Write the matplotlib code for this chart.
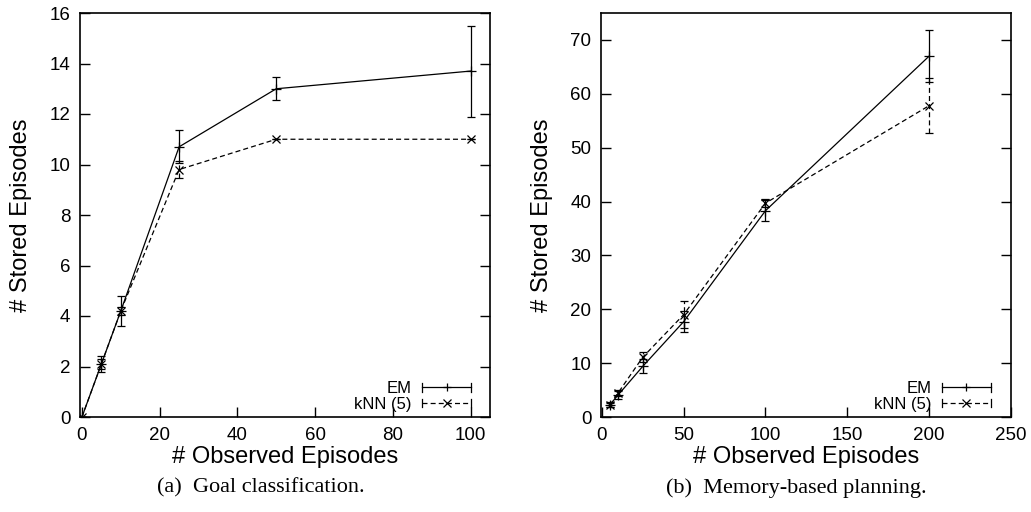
import matplotlib
matplotlib.use("Agg")
import matplotlib.pyplot as plt
from matplotlib.legend_handler import HandlerBase
from matplotlib.lines import Line2D

# ---- data: (a) Goal classification ----
a_x = [0, 5, 10, 25, 50, 100]
a_em = [0, 2.1, 4.2, 10.7, 13.0, 13.7]
a_em_err = [0, 0.3, 0.6, 0.65, 0.45, 1.8]
a_knn = [0, 2.1, 4.2, 9.8, 11.0, 11.0]
a_knn_err = [0, 0.2, 0.15, 0.35, 0, 0]

# ---- data: (b) Memory-based planning ----
b_x = [5, 10, 25, 50, 100, 200]
b_em = [2.3, 4.1, 9.4, 17.7, 38.3, 67.0]
b_em_err = [0.5, 0.8, 1.3, 1.9, 1.9, 4.8]
b_knn = [2.2, 4.5, 11.1, 19.0, 39.7, 57.8]
b_knn_err = [0.4, 0.6, 0.9, 2.5, 0.8, 5.1]

labels = ["EM", "kNN (5)"]
captions = ["(a)  Goal classification.", "(b)  Memory-based planning."]
a_xticks = [0, 20, 40, 60, 80, 100]
a_yticks = [0, 2, 4, 6, 8, 10, 12, 14, 16]
b_xticks = [0, 50, 100, 150, 200, 250]
b_yticks = [0, 10, 20, 30, 40, 50, 60, 70]

sans = ["Liberation Sans", "DejaVu Sans"]
serif = ["Liberation Serif", "DejaVu Serif"]
plt.rcParams['font.family'] = sans


class ErrHandler(HandlerBase):
    def __init__(self, marker, ls):
        super().__init__()
        self.marker = marker
        self.ls = ls

    def create_artists(self, legend, orig_handle, xdescent, ydescent,
                       width, height, fontsize, trans):
        y = height / 2 - ydescent
        x0, x1 = -xdescent, width - xdescent
        line = Line2D([x0, x1], [y, y], color='black', lw=0.9, ls=self.ls,
                      transform=trans)
        mk = Line2D([(x0 + x1) / 2], [y], color='black', marker=self.marker,
                    ms=6, mew=0.9, ls='none', transform=trans)
        c = height * 0.35
        cap0 = Line2D([x0, x0], [y - c, y + c], color='black', lw=0.9, transform=trans)
        cap1 = Line2D([x1, x1], [y - c, y + c], color='black', lw=0.9, transform=trans)
        return [line, mk, cap0, cap1]


fig = plt.figure(figsize=(10.31, 5.12), dpi=100)
W, H = 1031, 512


def make_axes(left_px):
    return fig.add_axes([left_px / W, (H - 417) / H, 410 / W, 404 / H])


def panel(ax, x, em, em_err, knn, knn_err, xlim, ylim, xticks, yticks,
          caption, cap_x, leg_right):
    ax.errorbar(x, em, yerr=em_err, color='black', lw=0.9, marker='+',
                ms=7, mew=0.9, capsize=3, capthick=0.9, elinewidth=0.9)
    e2 = ax.errorbar(x, knn, yerr=knn_err, color='black', lw=0.9, ls='--',
                     dashes=(4, 2.5), marker='x', ms=6, mew=0.9, capsize=3,
                     capthick=0.9, elinewidth=0.9)
    for bc in e2[2]:
        bc.set_linestyle((0, (4, 2.5)))
    ax.set_xlim(*xlim)
    ax.set_ylim(*ylim)
    ax.set_xticks(xticks)
    ax.set_yticks(yticks)
    ax.tick_params(direction='in', length=7, width=1.0, labelsize=13.5,
                   right=True, top=False, pad=7)
    for s in ax.spines.values():
        s.set_linewidth(1.2)
    ax.text(0.5, -0.1, "# Observed Episodes", transform=ax.transAxes,
            ha='center', va='center', fontsize=17)
    ax.text(-0.145, 0.5, "# Stored Episodes", transform=ax.transAxes,
            ha='center', va='center', rotation=90, fontsize=17)
    h1 = Line2D([], [], color='black')
    h2 = Line2D([], [], color='black', ls='--')
    ax.legend([h1, h2], labels, loc='lower right',
              bbox_to_anchor=(leg_right, 0.012), frameon=False, fontsize=12,
              markerfirst=False, handlelength=2.95, handletextpad=0.6,
              labelspacing=0.05, borderpad=0, borderaxespad=0,
              handler_map={h1: ErrHandler('+', '-'), h2: ErrHandler('x', (0, (4, 2.5)))})
    fig.text(cap_x / W, (H - 488) / H, caption, ha='center', va='center',
             fontsize=16, family=serif)


ax1 = make_axes(80)
panel(ax1, a_x, a_em, a_em_err, a_knn, a_knn_err, (-0.5, 105), (0, 16),
      a_xticks, a_yticks, captions[0], 261, 0.954)
ax2 = make_axes(601)
panel(ax2, b_x, b_em, b_em_err, b_knn, b_knn_err, (-0.5, 250), (0, 75),
      b_xticks, b_yticks, captions[1], 796, 0.951)

fig.savefig("out.png", dpi=100)
